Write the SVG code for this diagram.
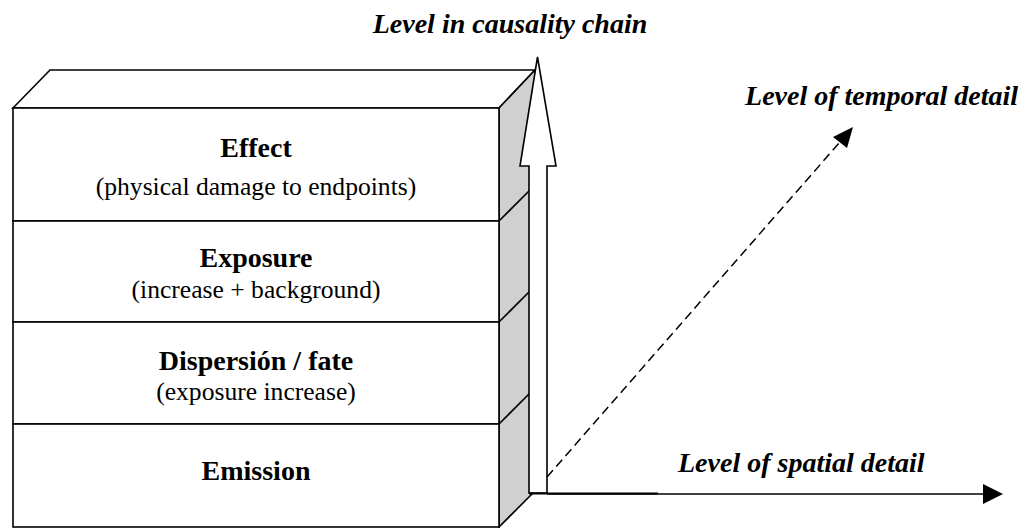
<svg xmlns="http://www.w3.org/2000/svg" width="1036" height="528" viewBox="0 0 1036 528">
<style>
.edge{fill:none;stroke:#000;stroke-width:1.6;stroke-linejoin:miter}
.face{fill:#fff;stroke:#000;stroke-width:1.6}
.side{fill:#d0d0d0;stroke:#000;stroke-width:1.6}
.t{font-family:"Liberation Serif",serif;fill:#000;text-anchor:middle}
.b{font-weight:bold;font-size:28px}
.s{font-size:25.6px}
.ax{font-family:"Liberation Serif",serif;font-weight:bold;font-style:italic;font-size:28px;fill:#000}
</style>
<rect width="1036" height="528" fill="#fff"/>
<g id="block">
<polygon class="face" points="13,108 50,70 535,70 499,108"/>
<polygon class="side" points="499,108 535,70 535,491 499,527"/>
<line class="edge" x1="499" y1="221" x2="535" y2="185"/>
<line class="edge" x1="499" y1="322" x2="535" y2="286"/>
<line class="edge" x1="499" y1="424" x2="535" y2="388"/>
</g>
<g id="effect">
<rect class="face" x="13" y="108" width="486" height="113"/>
<text class="t b" x="256" y="157">Effect</text>
<text class="t s" x="256" y="195" font-family="Liberation Serif">(physical damage to endpoints)</text>
</g>
<g id="exposure">
<rect class="face" x="13" y="221" width="486" height="101"/>
<text class="t b" x="256" y="267">Exposure</text>
<text class="t s" x="256" y="298" font-family="Liberation Serif">(increase + background)</text>
</g>
<g id="dispersion">
<rect class="face" x="13" y="322" width="486" height="102"/>
<text class="t b" x="256" y="370">Dispersión / fate</text>
<text class="t s" x="256" y="400" font-family="Liberation Serif">(exposure increase)</text>
</g>
<g id="emission">
<rect class="face" x="13" y="424" width="486" height="103"/>
<text class="t b" x="256" y="480">Emission</text>
</g>
<g id="connectors">
<polygon class="face" points="529,493 529,166 520,166 537.5,57 556,166 547,166 547,493"/>
<line x1="529" y1="493.5" x2="658" y2="493.5" stroke="#000" stroke-width="2"/>
<line x1="547" y1="494" x2="985" y2="494" stroke="#000" stroke-width="1.3"/>
<polygon points="983,484 1003,494 983,504" fill="#000"/>
<line x1="547" y1="477" x2="840" y2="142" stroke="#000" stroke-width="1.5" stroke-dasharray="9 5"/>
<polygon points="853,127 833,137 847,148" fill="#000"/>
</g>
<g id="labels">
<text class="ax" x="510" y="33" text-anchor="middle">Level in causality chain</text>
<text class="ax" x="1018" y="105" text-anchor="end">Level of temporal detail</text>
<text class="ax" x="678" y="472">Level of spatial detail</text>
</g>
</svg>
